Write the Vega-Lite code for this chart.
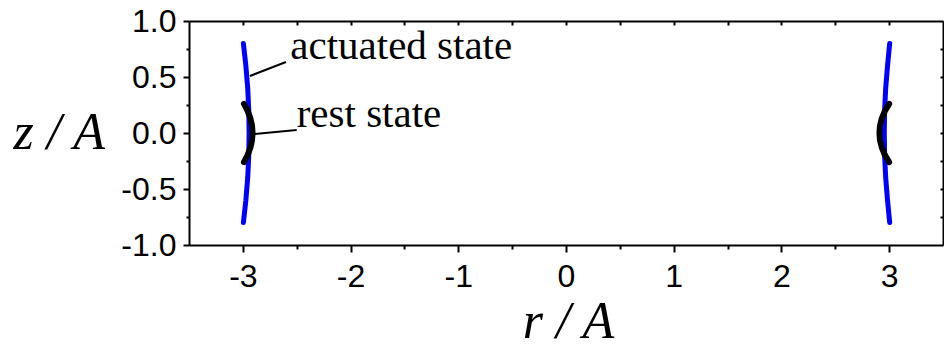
{
  "$schema": "https://vega.github.io/schema/vega-lite/v6.json",
  "width": 754,
  "height": 224,
  "autosize": {"type": "none"},
  "padding": {"left": 189, "top": 21, "right": 1, "bottom": 115},
  "background": "white",
  "config": {
    "view": {"stroke": null},
    "axis": {
      "domainColor": "black", "domainWidth": 2, "tickColor": "black", "tickWidth": 2,
      "grid": false, "labelFont": "Liberation Sans", "labelFontSize": 32, "labelColor": "black",
      "titleFont": "Liberation Serif", "titleFontStyle": "italic", "titleFontWeight": "normal",
      "titleFontSize": 52, "titleColor": "black"
    }
  },
  "datasets": {
    "actuated": [
      {"side": "left", "z": 0.8, "r": -2.995}, {"side": "left", "z": 0.6, "r": -2.972}, {"side": "left", "z": 0.4, "r": -2.955},
      {"side": "left", "z": 0.2, "r": -2.945}, {"side": "left", "z": 0.0, "r": -2.942}, {"side": "left", "z": -0.2, "r": -2.945},
      {"side": "left", "z": -0.4, "r": -2.955}, {"side": "left", "z": -0.6, "r": -2.972}, {"side": "left", "z": -0.8, "r": -2.995},
      {"side": "right", "z": 0.8, "r": 3.005}, {"side": "right", "z": 0.6, "r": 2.985}, {"side": "right", "z": 0.4, "r": 2.968},
      {"side": "right", "z": 0.2, "r": 2.958}, {"side": "right", "z": 0.0, "r": 2.955}, {"side": "right", "z": -0.2, "r": 2.958},
      {"side": "right", "z": -0.4, "r": 2.968}, {"side": "right", "z": -0.6, "r": 2.985}, {"side": "right", "z": -0.8, "r": 3.005}
    ],
    "rest": [
      {"side": "left", "z": 0.26, "r": -2.99}, {"side": "left", "z": 0.2, "r": -2.957}, {"side": "left", "z": 0.13, "r": -2.93},
      {"side": "left", "z": 0.065, "r": -2.915}, {"side": "left", "z": 0.0, "r": -2.91}, {"side": "left", "z": -0.065, "r": -2.915},
      {"side": "left", "z": -0.13, "r": -2.93}, {"side": "left", "z": -0.2, "r": -2.957}, {"side": "left", "z": -0.26, "r": -2.99},
      {"side": "right", "z": 0.26, "r": 3.0}, {"side": "right", "z": 0.2, "r": 2.962}, {"side": "right", "z": 0.13, "r": 2.932},
      {"side": "right", "z": 0.065, "r": 2.915}, {"side": "right", "z": 0.0, "r": 2.91}, {"side": "right", "z": -0.065, "r": 2.915},
      {"side": "right", "z": -0.13, "r": 2.932}, {"side": "right", "z": -0.2, "r": 2.962}, {"side": "right", "z": -0.26, "r": 3.0}
    ],
    "leaders": [
      {"r": -2.934, "z": 0.509, "r2": -2.6, "z2": 0.634},
      {"r": -2.89, "z": -0.009, "r2": -2.5, "z2": 0.027}
    ],
    "labels": [
      {"r": -2.56, "z": 0.661, "label": "actuated state"},
      {"r": -2.5, "z": 0.054, "label": "rest state"}
    ]
  },
  "resolve": {"axis": {"x": "independent", "y": "independent"}},
  "layer": [
    {
      "data": {"name": "actuated"},
      "mark": {"type": "line", "color": "#0000ff", "strokeWidth": 5, "strokeCap": "round"},
      "encoding": {
        "x": {"field": "r", "type": "quantitative",
              "scale": {"domain": [-3.5, 3.5], "nice": false, "zero": false},
              "axis": {"orient": "bottom", "values": [-3, -2, -1, 0, 1, 2, 3], "tickSize": 7, "labelPadding": 9,
                       "labelExpr": "replace(format(datum.value, 'd'), '−', '-')",
                       "title": "r / A", "titleAngle": 0, "titleAlign": "center", "titleBaseline": "alphabetic",
                       "titleX": 379, "titleY": 92}},
        "y": {"field": "z", "type": "quantitative",
              "scale": {"domain": [-1, 1], "nice": false, "zero": false},
              "axis": {"orient": "left", "values": [-1, -0.5, 0, 0.5, 1], "tickSize": 6, "labelPadding": 7,
                       "labelExpr": "replace(format(datum.value, '.1f'), '−', '-')",
                       "title": "z / A", "titleAngle": 0, "titleAlign": "left", "titleBaseline": "alphabetic",
                       "titleX": -176, "titleY": 127}},
        "detail": {"field": "side"},
        "order": {"field": "z"}
      }
    },
    {
      "data": {"name": "rest"},
      "mark": {"type": "line", "color": "black", "strokeWidth": 6, "strokeCap": "round"},
      "encoding": {
        "x": {"field": "r", "type": "quantitative",
              "axis": {"orient": "bottom", "values": [-2.5, -1.5, -0.5, 0.5, 1.5, 2.5], "tickSize": 4,
                       "labels": false, "domain": false, "title": null}},
        "y": {"field": "z", "type": "quantitative",
              "axis": {"orient": "left", "values": [-0.75, -0.25, 0.25, 0.75], "tickSize": 3,
                       "labels": false, "domain": false, "title": null}},
        "detail": {"field": "side"},
        "order": {"field": "z"}
      }
    },
    {
      "data": {"name": "leaders"},
      "mark": {"type": "rule", "color": "black", "strokeWidth": 2},
      "encoding": {
        "x": {"field": "r", "type": "quantitative",
              "axis": {"orient": "top", "values": [-3, -2.5, -2, -1.5, -1, -0.5, 0, 0.5, 1, 1.5, 2, 2.5, 3], "tickSize": -4,
                       "labels": false, "title": null}},
        "y": {"field": "z", "type": "quantitative",
              "axis": {"orient": "right", "values": [-0.75, -0.5, -0.25, 0, 0.25, 0.5, 0.75], "tickSize": -3,
                       "labels": false, "title": null}},
        "x2": {"field": "r2"},
        "y2": {"field": "z2"}
      }
    },
    {
      "data": {"name": "labels"},
      "mark": {"type": "text", "font": "Liberation Serif", "fontSize": 41, "align": "left", "baseline": "alphabetic", "color": "black"},
      "encoding": {
        "x": {"field": "r", "type": "quantitative", "axis": null},
        "y": {"field": "z", "type": "quantitative", "axis": null},
        "text": {"field": "label"}
      }
    }
  ]
}
